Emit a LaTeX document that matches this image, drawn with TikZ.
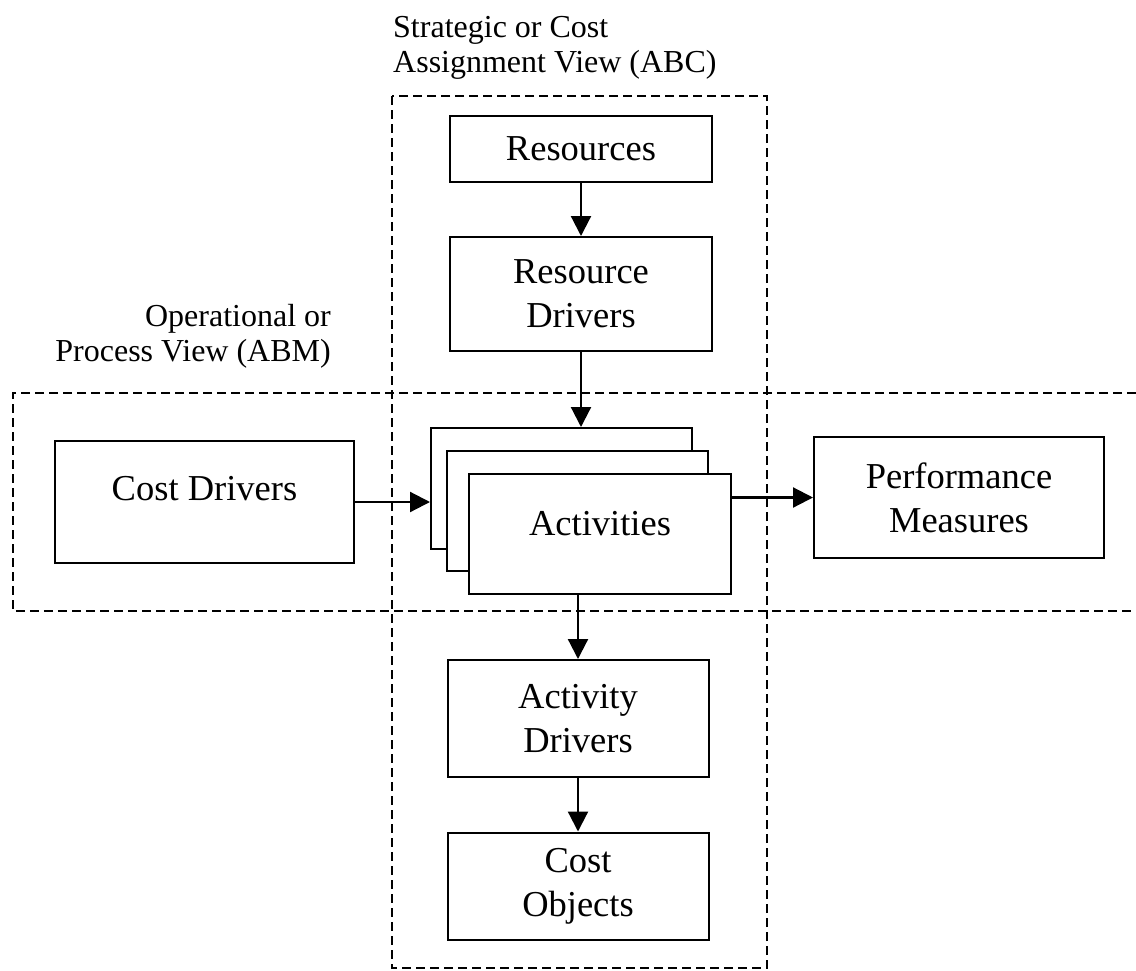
\documentclass[tikz,border=0pt]{standalone}
\usepackage{fontspec}
\setmainfont{Liberation Serif}
\usetikzlibrary{arrows.meta}

\begin{document}
\begin{tikzpicture}[x=1pt,y=-1pt,
		box/.style={draw,line width=2pt,fill=white,inner sep=0pt,align=center,font=\fontsize{36.5}{44}\selectfont},
		view/.style={dash pattern=on 9pt off 5pt,line width=2pt},
		flow/.style={line width=2.2pt,-{Triangle[length=20pt,width=20pt]}},
		caption/.style={inner sep=0pt,font=\fontsize{32}{35}\selectfont}]
			\useasboundingbox (0,0) rectangle (1136,970);
			% the two views
			\coordinate (abcnw) at (392,96);
			\coordinate (abcse) at (767,968);
			\coordinate (abmnw) at (13,393);
			\coordinate (abmse) at (1136,611);
			\draw[view] (abcnw) rectangle (abcse);
			\draw[view] (abmse |- abmnw) -- (abmnw) -- (abmnw |- abmse) -- (abmse);
			\node[caption,anchor=north west,align=left] (abc) at ([shift={(1,-80)}]abcnw) {Strategic or Cost\\Assignment View (ABC)};
			\node[caption,anchor=north east,align=right] (abm) at (331,304) {Operational or\\Process View (ABM)};
	
			\node[box,minimum width=262pt,minimum height=66pt] (res) at (581,149) {Resources};
			\node[box,minimum width=262pt,minimum height=114pt] (resdrv) at (581,294) {Resource\\Drivers};
			\node[box,minimum width=299pt,minimum height=122pt,text depth=28pt] (costdrv) at (204.5,502) {Cost Drivers};
			\node[box,minimum width=261pt,minimum height=121pt] (act3) at (561.5,488.5) {};
			\node[box,minimum width=261pt,minimum height=120pt] (act2) at ([shift={(16,22.5)}]act3) {};
			\node[box,minimum width=262pt,minimum height=120pt,text depth=22pt] (act) at ([shift={(22.5,23)}]act2) {Activities};
			\node[box,minimum width=290pt,minimum height=121pt] (perf) at (959,497.5) {Performance\\Measures};
			\node[box,minimum width=261pt,minimum height=117pt] (actdrv) at (578,718.5) {Activity\\Drivers};
			\node[box,minimum width=261pt,minimum height=107pt] (costobj) at (578,886) {Cost\\Objects};
	
			\draw[flow] (res.south) -- (resdrv.north);
			\draw[flow] (resdrv.south) -- (resdrv.south |- act3.north);
			\draw[flow] (costdrv.east) -- (costdrv.east -| act3.west);
			\draw[flow] (perf.west -| act.east) -- (perf.west);
			\draw[flow] (actdrv.north |- act.south) -- (actdrv.north);
			\draw[flow] (actdrv.south) -- (costobj.north);
		\end{tikzpicture}
\end{document}
